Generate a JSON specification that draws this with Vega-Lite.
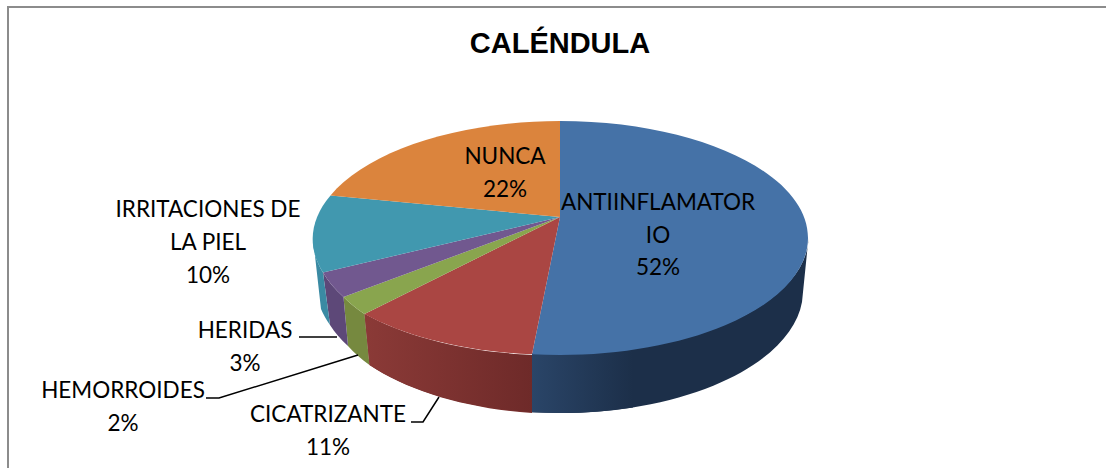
{
"$schema":"https://vega.github.io/schema/vega-lite/v6.json",
"width":1106,"height":468,"padding":0,"autosize":{"type":"none"},
"background":"white",
"view":{"stroke":null},
"title":{"text":"CALÉNDULA","font":"Liberation Sans","fontSize":29,"fontWeight":"bold","color":"#000000","anchor":"middle","dx":7,"offset":-88,"baseline":"bottom"},
"data":{"values":[
{"category":"ANTIINFLAMATORIO","value":52,"label":"ANTIINFLAMATOR\nIO\n52%"},
{"category":"CICATRIZANTE","value":11,"label":"CICATRIZANTE\n11%"},
{"category":"HEMORROIDES","value":2,"label":"HEMORROIDES\n2%"},
{"category":"HERIDAS","value":3,"label":"HERIDAS\n3%"},
{"category":"IRRITACIONES DE LA PIEL","value":10,"label":"IRRITACIONES DE\nLA PIEL\n10%"},
{"category":"NUNCA","value":22,"label":"NUNCA\n22%"}
]},
"layer":[
{"mark":{"type":"point","shape":"M-545,240 L-545,-227 L560,-227","size":4,"filled":false,"stroke":"#8c8c8c","strokeWidth":2,"opacity":1}},
{"transform":[{"filter":"datum.category!='NUNCA'"}],
 "mark":{"type":"point","filled":true,"size":4,"opacity":1},
 "encoding":{
  "shape":{"field":"category","type":"nominal","legend":null,"scale":{"domain":["ANTIINFLAMATORIO","CICATRIZANTE","HEMORROIDES","HERIDAS","IRRITACIONES DE LA PIEL"],"range":[
   "M-21,119 A248,117 0 0 0 255.5,4 L249,68 A243,122 0 0 1 -21,178.2 Z",
   "M-188.5,80 A248,117 0 0 0 -21,121 L-21,179 A243,122 0 0 1 -183.5,131 Z",
   "M-209.5,63 A248,117 0 0 0 -188.5,80 L-183.5,131 A243,122 0 0 1 -205,112 Z",
   "M-230,38.5 A248,117 0 0 0 -209.5,63 L-205,112 A243,122 0 0 1 -223,91 Z",
   "M-240,4 A248,117 0 0 0 -230,38.5 L-223,91 A243,122 0 0 1 -232,75 Z"]}},
  "color":{"field":"category","type":"nominal","legend":null,"scale":{"domain":["ANTIINFLAMATORIO","CICATRIZANTE","HEMORROIDES","HERIDAS","IRRITACIONES DE LA PIEL"],"range":["#1c2f49","#7a302e","#76893f","#5d4878","#3a8aa3"]}}
 }},
{"transform":[{"filter":"datum.category=='ANTIINFLAMATORIO'"}],
 "mark":{"type":"point","filled":true,"size":4,"opacity":1,"shape":"M-21,119 L80,114 L80,173.4 A243,122 0 0 1 -21,178.2 Z",
  "fill":{"gradient":"linear","x1":0,"y1":0,"x2":1,"y2":0,"stops":[{"offset":0,"color":"#2a4568"},{"offset":1,"color":"#1c2f49"}]}}},
{"transform":[{"filter":"datum.category=='CICATRIZANTE'"}],
 "mark":{"type":"point","filled":true,"size":4,"opacity":1,"shape":"M-188.5,80 A248,117 0 0 0 -21,121 L-21,178.2 A243,122 0 0 1 -183.5,131 Z",
  "fill":{"gradient":"linear","x1":0,"y1":0,"x2":1,"y2":0,"stops":[{"offset":0,"color":"#8b3a37"},{"offset":1,"color":"#6e2a29"}]}}},
{"mark":{"type":"point","filled":true,"size":4,"opacity":1},
 "encoding":{
  "shape":{"field":"category","type":"nominal","legend":null,"scale":{"domain":["ANTIINFLAMATORIO","CICATRIZANTE","HEMORROIDES","HERIDAS","IRRITACIONES DE LA PIEL","NUNCA"],"range":[
   "M7,-17 L7,-113 A248,117 0 0 1 255,4 A248,117 0 0 1 -21,120.25 Z",
   "M7,-17 L-21,120.25 A248,117 0 0 1 -188.5,80 Z",
   "M7,-17 L-188.5,80 A248,117 0 0 1 -209.5,63 Z",
   "M7,-17 L-209.5,63 A248,117 0 0 1 -230,38.5 Z",
   "M7,-17 L-230,38.5 A248,117 0 0 1 -222.5,-38.5 Z",
   "M7,-17 L-222.5,-38.5 A248,117 0 0 1 7,-113 Z"]}},
  "color":{"field":"category","type":"nominal","legend":null,"scale":{"domain":["ANTIINFLAMATORIO","CICATRIZANTE","HEMORROIDES","HERIDAS","IRRITACIONES DE LA PIEL","NUNCA"],"range":["#4572A7","#AA4643","#89A54E","#71588F","#4198AF","#DB843D"]}}
 }},
{"transform":[{"filter":"datum.category=='CICATRIZANTE'||datum.category=='HEMORROIDES'||datum.category=='HERIDAS'"}],
 "mark":{"type":"point","filled":false,"size":4,"opacity":1,"stroke":"#000000","strokeWidth":1.5},
 "encoding":{"shape":{"field":"category","type":"nominal","legend":null,"scale":{"domain":["CICATRIZANTE","HEMORROIDES","HERIDAS"],"range":[
   "M-142,188 L-130,188 L-114,163",
   "M-347,164 L-334,164 L-195,121",
   "M-254,103 L-216,103"]}}}},
{"transform":[{"filter":"datum.category=='ANTIINFLAMATORIO'"}],"mark":{"type":"text","font":"Lato","fontSize":22.5,"lineHeight":32.5,"lineBreak":"\n","color":"#000000","align":"center","baseline":"middle","dx":105,"dy":-31},"encoding":{"text":{"field":"label"}}},
{"transform":[{"filter":"datum.category=='NUNCA'"}],"mark":{"type":"text","font":"Lato","fontSize":22.5,"lineHeight":32.5,"lineBreak":"\n","color":"#000000","align":"center","baseline":"middle","dx":-48,"dy":-77},"encoding":{"text":{"field":"label"}}},
{"transform":[{"filter":"datum.category=='IRRITACIONES DE LA PIEL'"}],"mark":{"type":"text","font":"Lato","fontSize":22.5,"lineHeight":33,"lineBreak":"\n","color":"#000000","align":"center","baseline":"middle","dx":-345,"dy":-24},"encoding":{"text":{"field":"label"}}},
{"transform":[{"filter":"datum.category=='HERIDAS'"}],"mark":{"type":"text","font":"Lato","fontSize":22.5,"lineHeight":32.5,"lineBreak":"\n","color":"#000000","align":"center","baseline":"middle","dx":-308,"dy":97},"encoding":{"text":{"field":"label"}}},
{"transform":[{"filter":"datum.category=='HEMORROIDES'"}],"mark":{"type":"text","font":"Lato","fontSize":22.5,"lineHeight":32.5,"lineBreak":"\n","color":"#000000","align":"center","baseline":"middle","dx":-430,"dy":157},"encoding":{"text":{"field":"label"}}},
{"transform":[{"filter":"datum.category=='CICATRIZANTE'"}],"mark":{"type":"text","font":"Lato","fontSize":22.5,"lineHeight":32.5,"lineBreak":"\n","color":"#000000","align":"center","baseline":"middle","dx":-225,"dy":181},"encoding":{"text":{"field":"label"}}}
],
"resolve":{"scale":{"shape":"independent","color":"independent"}}
}
